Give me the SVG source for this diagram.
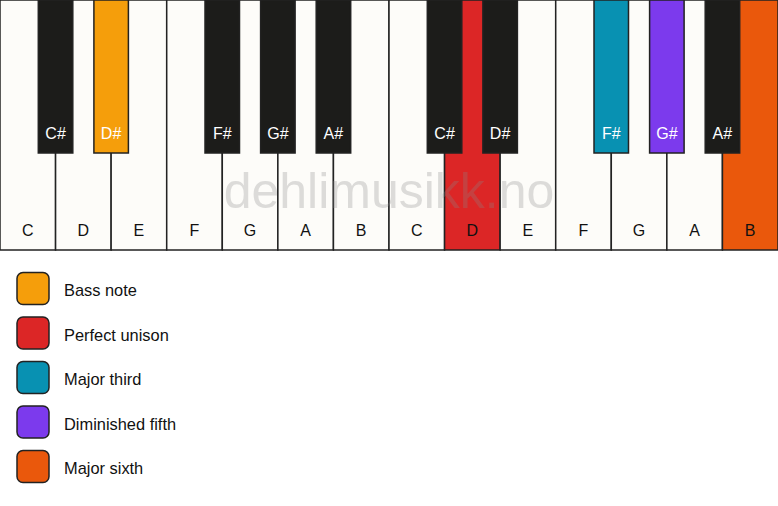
<svg xmlns="http://www.w3.org/2000/svg" width="778" height="506" viewBox="0 0 778 506">
<style>
.w{fill:#fdfcf9;stroke:#222;stroke-width:1.5}
.b{fill:#1c1c1a;stroke:#222;stroke-width:1.5}
.wl{font-family:"Liberation Sans",Arial,sans-serif;font-size:16px;fill:#111;text-anchor:middle}
.bl{font-family:"Liberation Sans",Arial,sans-serif;font-size:16px;fill:#fff;text-anchor:middle}
.lg{stroke:#222;stroke-width:1.5}
.lt{font-family:"Liberation Sans",Arial,sans-serif;font-size:16.4px;fill:#111}
</style>
<rect width="778" height="506" fill="#ffffff"/>
<g id="white-keys">
<g id="key-C1"><rect class="w" x="0" y="0" width="55.57" height="250"/><text class="wl" x="27.8" y="236">C</text></g>
<g id="key-D1"><rect class="w" x="55.57" y="0" width="55.57" height="250"/><text class="wl" x="83.4" y="236">D</text></g>
<g id="key-E1"><rect class="w" x="111.14" y="0" width="55.57" height="250"/><text class="wl" x="138.9" y="236">E</text></g>
<g id="key-F1"><rect class="w" x="166.71" y="0" width="55.57" height="250"/><text class="wl" x="194.5" y="236">F</text></g>
<g id="key-G1"><rect class="w" x="222.29" y="0" width="55.57" height="250"/><text class="wl" x="250.1" y="236">G</text></g>
<g id="key-A1"><rect class="w" x="277.86" y="0" width="55.57" height="250"/><text class="wl" x="305.6" y="236">A</text></g>
<g id="key-B1"><rect class="w" x="333.43" y="0" width="55.57" height="250"/><text class="wl" x="361.2" y="236">B</text></g>
<g id="key-C2"><rect class="w" x="389" y="0" width="55.57" height="250"/><text class="wl" x="416.8" y="236">C</text></g>
<g id="key-D2"><rect class="w" x="444.57" y="0" width="55.57" height="250" style="fill:#dc2626"/><text class="wl" x="472.4" y="236">D</text></g>
<g id="key-E2"><rect class="w" x="500.14" y="0" width="55.57" height="250"/><text class="wl" x="527.9" y="236">E</text></g>
<g id="key-F2"><rect class="w" x="555.71" y="0" width="55.57" height="250"/><text class="wl" x="583.5" y="236">F</text></g>
<g id="key-G2"><rect class="w" x="611.29" y="0" width="55.57" height="250"/><text class="wl" x="639.1" y="236">G</text></g>
<g id="key-A2"><rect class="w" x="666.86" y="0" width="55.57" height="250"/><text class="wl" x="694.6" y="236">A</text></g>
<g id="key-B2"><rect class="w" x="722.43" y="0" width="55.57" height="250" style="fill:#ea580c"/><text class="wl" x="750.2" y="236">B</text></g>
</g>
<text x="389" y="208" font-family="Liberation Sans,Arial,sans-serif" font-size="50" fill="#888" opacity="0.28" text-anchor="middle">dehlimusikk.no</text>
<g id="black-keys">
<g id="key-Cs1"><rect class="b" x="38.3" y="0" width="34.5" height="153"/><text class="bl" x="55.6" y="139">C#</text></g>
<g id="key-Ds1"><rect class="b" x="93.9" y="0" width="34.5" height="153" style="fill:#f59e0b"/><text class="bl" x="111.1" y="139">D#</text></g>
<g id="key-Fs1"><rect class="b" x="205" y="0" width="34.5" height="153"/><text class="bl" x="222.3" y="139">F#</text></g>
<g id="key-Gs1"><rect class="b" x="260.6" y="0" width="34.5" height="153"/><text class="bl" x="277.9" y="139">G#</text></g>
<g id="key-As1"><rect class="b" x="316.2" y="0" width="34.5" height="153"/><text class="bl" x="333.4" y="139">A#</text></g>
<g id="key-Cs2"><rect class="b" x="427.3" y="0" width="34.5" height="153"/><text class="bl" x="444.6" y="139">C#</text></g>
<g id="key-Ds2"><rect class="b" x="482.9" y="0" width="34.5" height="153"/><text class="bl" x="500.1" y="139">D#</text></g>
<g id="key-Fs2"><rect class="b" x="594" y="0" width="34.5" height="153" style="fill:#0891b2"/><text class="bl" x="611.3" y="139">F#</text></g>
<g id="key-Gs2"><rect class="b" x="649.6" y="0" width="34.5" height="153" style="fill:#7c3aed"/><text class="bl" x="666.9" y="139">G#</text></g>
<g id="key-As2"><rect class="b" x="705.2" y="0" width="34.5" height="153"/><text class="bl" x="722.4" y="139">A#</text></g>
</g>
<g id="legend">
<g id="legend-bass"><rect class="lg" x="17" y="272.5" width="32" height="32" rx="6" fill="#f59e0b"/><text class="lt" x="64" y="296">Bass note</text></g>
<g id="legend-unison"><rect class="lg" x="17" y="317" width="32" height="32" rx="6" fill="#dc2626"/><text class="lt" x="64" y="340.5">Perfect unison</text></g>
<g id="legend-third"><rect class="lg" x="17" y="361.5" width="32" height="32" rx="6" fill="#0891b2"/><text class="lt" x="64" y="385">Major third</text></g>
<g id="legend-fifth"><rect class="lg" x="17" y="406" width="32" height="32" rx="6" fill="#7c3aed"/><text class="lt" x="64" y="429.5">Diminished fifth</text></g>
<g id="legend-sixth"><rect class="lg" x="17" y="450.5" width="32" height="32" rx="6" fill="#ea580c"/><text class="lt" x="64" y="474">Major sixth</text></g>
</g>
<g id="connectors"/>
</svg>
